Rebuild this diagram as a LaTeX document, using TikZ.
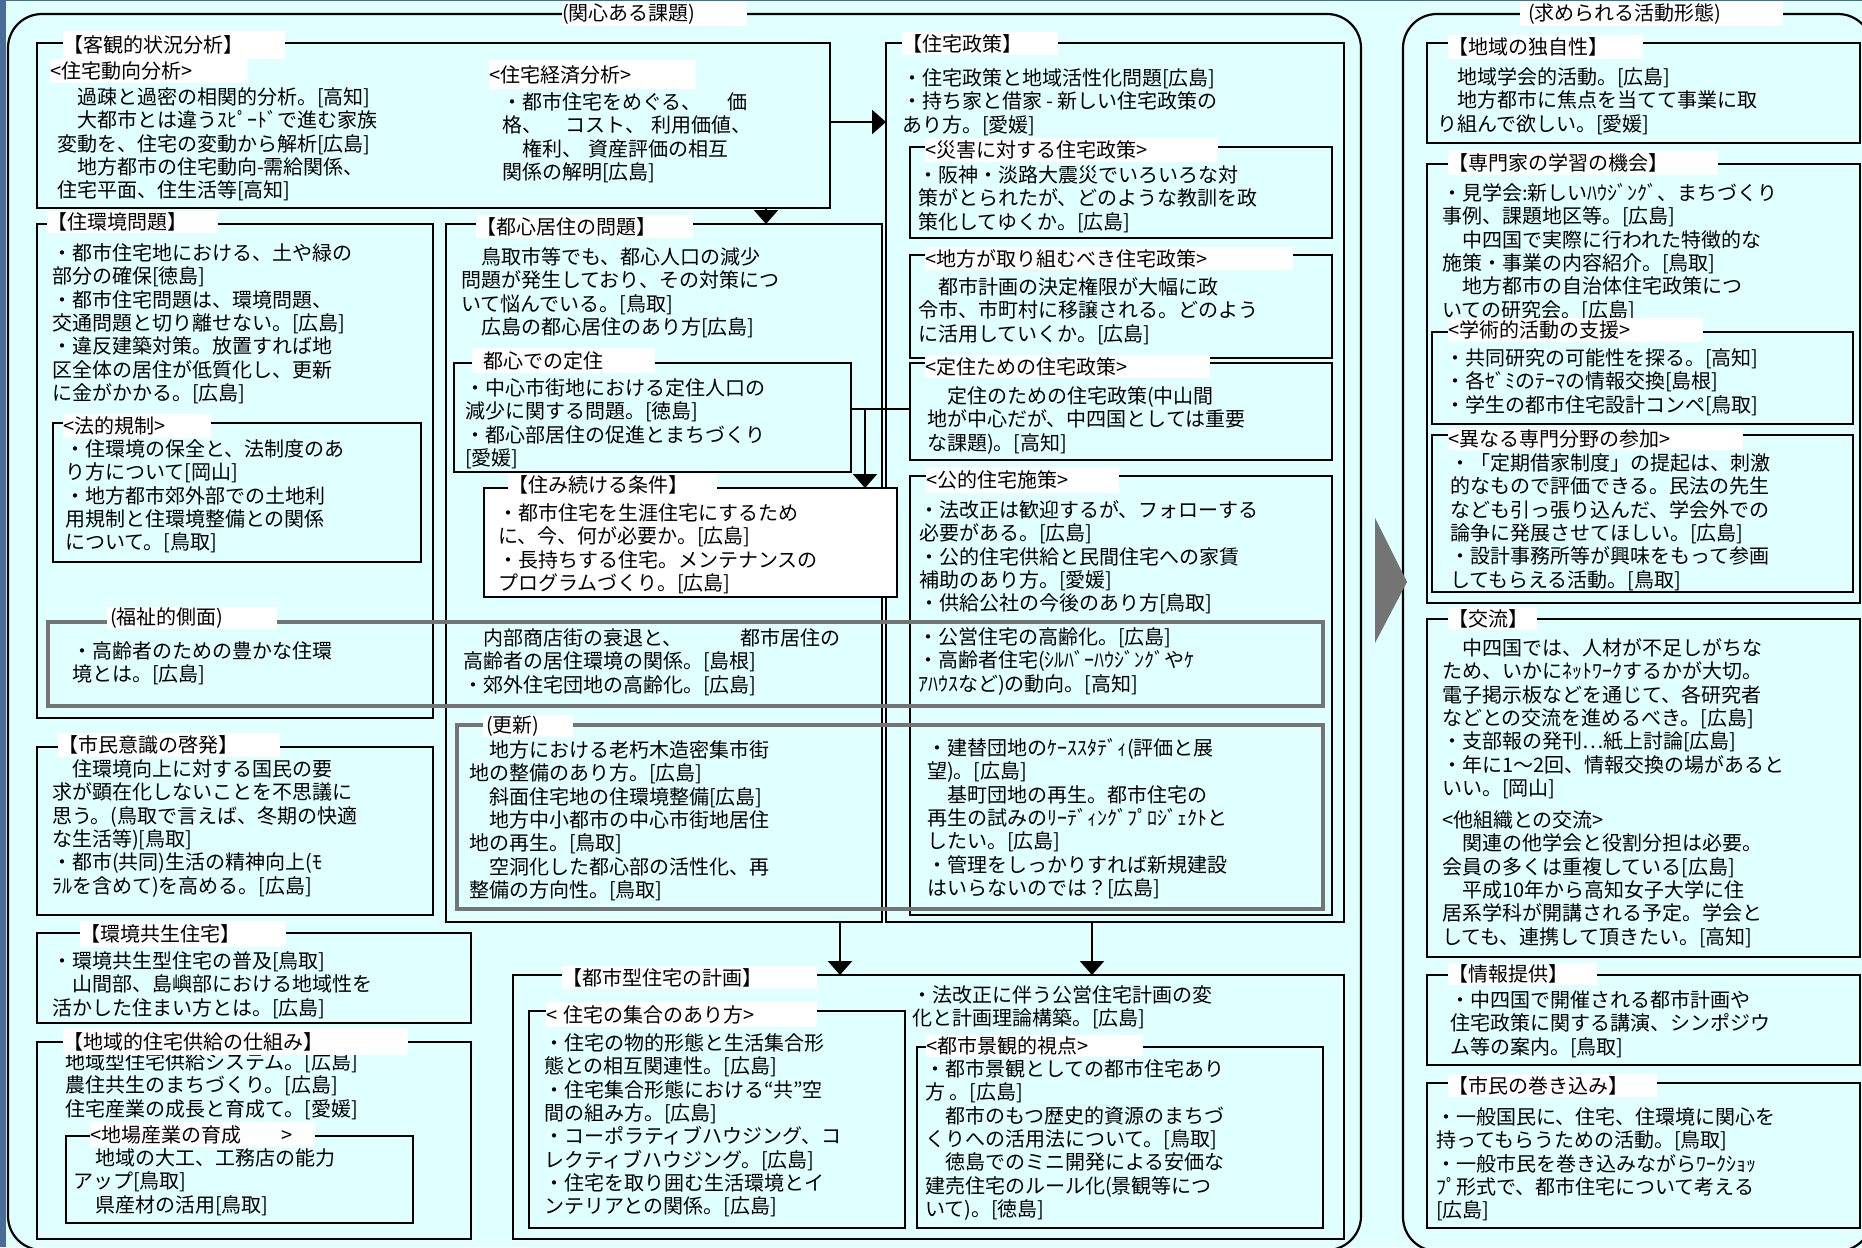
\documentclass[tikz,border=0pt]{standalone}
\usepackage{fontspec}
\setmainfont{Noto Sans CJK JP}
\usetikzlibrary{arrows.meta}
\definecolor{bgblue}{HTML}{4A6C98}
\definecolor{lcyan}{HTML}{E0FFFF}
\definecolor{gline}{HTML}{747474}
\newcommand\jf{\fontsize{20pt}{23.3pt}\selectfont}
\newcommand\ind{\hspace*{1em}}
\newcommand\bx[6][]{\node[box,#1,minimum width={(#5-#3)*1pt},minimum height={(#6-#4)*1pt}] (#2) at (#3,#4) {};}
\newcommand\ttl[7][]{\pgfmathsetmacro\ttlw{#5-#3}\pgfmathsetmacro\ttlh{#6-#4}\node[ttlbox,#1,text width=\ttlw pt,minimum height=\ttlh pt] (#2) at (#3,#4) {#7};}
\newcommand\tb[4]{\node[tx] (#1) at (#2,#3-10.9) {\rule{0pt}{18.5pt}#4};}
\tikzset{
  box/.style={draw=black, line width=2.6pt, anchor=north west, inner sep=0pt, outer sep=0pt, rectangle},
  gbox/.style={box, draw=gline, line width=4.5pt},
  obox/.style={box, line width=2.2pt, rounded corners=34pt},
  wbox/.style={box, fill=white},
  ttlbox/.style={fill=white, anchor=north west, inner sep=0pt, outer sep=0pt, align=left, font=\jf},
  tx/.style={anchor=north west, inner sep=0pt, outer sep=0pt, align=left, font=\jf},
  arr/.style={line width=2.6pt, -{Triangle[width=24pt,length=14pt]}},
  ln/.style={line width=2.6pt},
}
\begin{document}
\begin{tikzpicture}[x=1pt,y=-1pt]
\useasboundingbox (0,0) rectangle (1862,1247);
\clip (0,0) rectangle (1862,1247);
\fill[bgblue] (0,0) rectangle (1862,1247);
\fill[lcyan] (6,1) rectangle (1862,1247);
% outer boxes
\bx[obox]{M}{8}{14}{1361}{1250}
\bx[obox]{N}{1403}{14}{1872}{1251}
\fill[gline] (1375,518) -- (1407,582) -- (1375,643) -- cycle;
% left column
\bx{A}{37}{43}{830}{208}
\bx{B}{37}{224}{433}{718}
\bx{B1}{53}{423}{421}{562}
\bx{F}{37}{747}{433}{915}
\bx{G}{37}{933}{471}{1023}
\bx{H}{37}{1042}{471}{1239}
\bx{H1}{66}{1136}{413}{1223}
% middle
\bx{C}{446}{224}{882}{922}
\bx{C1}{454}{363}{851}{472}
\bx{D}{886}{43}{1344}{922}
\bx{D1}{910}{147}{1332}{238}
\bx{D2}{910}{255}{1332}{358}
\bx{D3}{910}{363}{1332}{460}
\bx{D4}{910}{476}{1332}{915}
\bx{E}{513}{975}{1344}{1239}
\bx{E1}{529}{1011}{905}{1228}
\bx{E2}{917}{1047}{1323}{1228}
% grey boxes
\bx[gbox]{W1}{48}{622}{1323}{706}
\bx[gbox]{W2}{457}{725}{1323}{909}
% right column
\bx{R1}{1427}{43}{1860}{143}
\bx{R2}{1427}{164}{1860}{603}
\bx{R2a}{1432}{332}{1853}{424}
\bx{R2b}{1432}{435}{1853}{592}
\bx{R3}{1427}{619}{1860}{957}
\bx{R4}{1427}{975}{1860}{1065}
\bx{R5}{1427}{1083}{1860}{1228}
% white box
\bx[wbox]{C2}{484}{488}{897}{597}
% connectors
\coordinate (ya) at (0,122);
\coordinate (xa) at (766,0);
\coordinate (yb) at (0,409);
\coordinate (xb) at (865,0);
\coordinate (xc) at (840,0);
\coordinate (xd) at (1092,0);
\draw[arr] (A.east |- ya) -- (D.west |- ya);
\draw[arr] (A.south -| xa) -- (C.north -| xa);
\draw[ln] (C1.east |- yb) -- (D3.west |- yb);
\draw[arr] (xb |- yb) -- (C2.north -| xb);
\draw[arr] (C.south -| xc) -- (E.north -| xc);
\draw[arr] (D.south -| xd) -- (E.north -| xd);
% texts
\tb{At}{57}{97}{\ind 過疎と過密の相関的分析。[高知]\\\ind 大都市とは違うｽﾋﾟｰﾄﾞで進む家族\\変動を、住宅の変動から解析[広島]\\\ind 地方都市の住宅動向-需給関係、\\住宅平面、住生活等[高知]}
\tb{A2t}{502}{102}{・都市住宅をめぐる、\hspace{1.3em}価\\格、\hspace{1.2em}コスト、\hspace{0.3em}利用価値、\\\ind 権利、\hspace{0.3em}資産評価の相互\\関係の解明[広島]}
\tb{Bt}{52}{253}{・都市住宅地における、土や緑の\\部分の確保[徳島]\\・都市住宅問題は、環境問題、\\交通問題と切り離せない。[広島]\\・違反建築対策。放置すれば地\\区全体の居住が低質化し、更新\\に金がかかる。[広島]}
\tb{B1t}{65}{449}{・住環境の保全と、法制度のあ\\り方について[岡山]\\・地方都市郊外部での土地利\\用規制と住環境整備との関係\\について。[鳥取]}
\tb{W1a}{72}{651}{・高齢者のための豊かな住環\\境とは。[広島]}
\tb{W1b}{463}{638}{\ind 内部商店街の衰退と、\hspace{2.9em}都市居住の\\高齢者の居住環境の関係。[島根]\\・郊外住宅団地の高齢化。[広島]}
\tb{W1c}{918}{637}{・公営住宅の高齢化。[広島]\\・高齢者住宅(ｼﾙﾊﾞｰﾊｳｼﾞﾝｸﾞやｹ\\ｱﾊｳｽなど)の動向。[高知]}
\tb{Ct}{461}{257}{\ind 鳥取市等でも、都心人口の減少\\問題が発生しており、その対策につ\\いて悩んでいる。[鳥取]\\\ind 広島の都心居住のあり方[広島]}
\tb{C1t}{465}{388}{・中心市街地における定住人口の\\減少に関する問題。[徳島]\\・都心部居住の促進とまちづくり\\{}[愛媛]}
\tb{C2t}{498}{513}{・都市住宅を生涯住宅にするため\\に、今、何が必要か。[広島]\\・長持ちする住宅。メンテナンスの\\プログラムづくり。[広島]}
\tb{W2a}{469}{750}{\ind 地方における老朽木造密集市街\\地の整備のあり方。[広島]\\\ind 斜面住宅地の住環境整備[広島]\\\ind 地方中小都市の中心市街地居住\\地の再生。[鳥取]\\\ind 空洞化した都心部の活性化、再\\整備の方向性。[鳥取]}
\tb{W2b}{927}{748}{・建替団地のｹｰｽｽﾀﾃﾞｨ(評価と展\\望)。[広島]\\\ind 基町団地の再生。都市住宅の\\再生の試みのﾘｰﾃﾞｨﾝｸﾞﾌﾟﾛｼﾞｪｸﾄと\\したい。[広島]\\・管理をしっかりすれば新規建設\\はいらないのでは？[広島]}
\tb{Dt}{902}{78}{・住宅政策と地域活性化問題[広島]\\・持ち家と借家 - 新しい住宅政策の\\あり方。[愛媛]}
\tb{D1t}{918}{175}{・阪神・淡路大震災でいろいろな対\\策がとられたが、どのような教訓を政\\策化してゆくか。[広島]}
\tb{D2t}{918}{287}{\ind 都市計画の決定権限が大幅に政\\令市、市町村に移譲される。どのよう\\に活用していくか。[広島]}
\tb{D3t}{927}{396}{\ind 定住のための住宅政策(中山間\\地が中心だが、中四国としては重要\\な課題)。[高知]}
\tb{D4t}{919}{510}{・法改正は歓迎するが、フォローする\\必要がある。[広島]\\・公的住宅供給と民間住宅への家賃\\補助のあり方。[愛媛]\\・供給公社の今後のあり方[鳥取]}
\tb{Et}{912}{995}{・法改正に伴う公営住宅計画の変\\化と計画理論構築。[広島]}
\tb{E1t}{544}{1043}{・住宅の物的形態と生活集合形\\態との相互関連性。[広島]\\・住宅集合形態における“共”空\\間の組み方。[広島]\\・コーポラティブハウジング、コ\\レクティブハウジング。[広島]\\・住宅を取り囲む生活環境とイ\\ンテリアとの関係。[広島]}
\tb{E2t}{925}{1069}{・都市景観としての都市住宅あり\\方 。[広島]\\\ind 都市のもつ歴史的資源のまちづ\\くりへの活用法について。[鳥取]\\\ind 徳島でのミニ開発による安価な\\建売住宅のルール化(景観等につ\\いて)。[徳島]}
\tb{Ft}{52}{769}{\ind 住環境向上に対する国民の要\\求が顕在化しないことを不思議に\\思う。(鳥取で言えば、冬期の快適\\な生活等)[鳥取]\\・都市(共同)生活の精神向上(ﾓ\\ﾗﾙを含めて)を高める。[広島]}
\tb{Gt}{52}{961}{・環境共生型住宅の普及[鳥取]\\\ind 山間部、島嶼部における地域性を\\活かした住まい方とは。[広島]}
\tb{Ht}{65}{1062}{地域型住宅供給システム。[広島]\\農住共生のまちづくり。[広島]\\住宅産業の成長と育成て。[愛媛]}
\tb{H1t}{73}{1158}{\hspace*{22pt}地域の大工、工務店の能力\\アップ[鳥取]\\\hspace*{22pt}県産材の活用[鳥取]}
\tb{R1t}{1437}{77}{\ind 地域学会的活動。[広島]\\\ind 地方都市に焦点を当てて事業に取\\り組んで欲しい。[愛媛]}
\tb{R2t}{1442}{193}{・見学会:新しいﾊｳｼﾞﾝｸﾞ、まちづくり\\事例、課題地区等。[広島]\\\ind 中四国で実際に行われた特徴的な\\施策・事業の内容紹介。[鳥取]\\\ind 地方都市の自治体住宅政策につ\\いての研究会。[広島]}
\tb{R2at}{1445}{358}{・共同研究の可能性を探る。[高知]\\・各ｾﾞﾐのﾃｰﾏの情報交換[島根]\\・学生の都市住宅設計コンペ[鳥取]}
\tb{R2bt}{1450}{463}{・「定期借家制度」の提起は、刺激\\的なもので評価できる。民法の先生\\なども引っ張り込んだ、学会外での\\論争に発展させてほしい。[広島]\\・設計事務所等が興味をもって参画\\してもらえる活動。[鳥取]}
\tb{R3t}{1442}{648}{\ind 中四国では、人材が不足しがちな\\ため、いかにﾈｯﾄﾜｰｸするかが大切。\\電子掲示板などを通じて、各研究者\\などとの交流を進めるべき。[広島]\\・支部報の発刊…紙上討論[広島]\\・年に1～2回、情報交換の場があると\\いい。[岡山]}
\tb{R3bt}{1442}{820}{<他組織との交流>\\\ind 関連の他学会と役割分担は必要。\\会員の多くは重複している[広島]\\\ind 平成10年から高知女子大学に住\\居系学科が開講される予定。学会と\\しても、連携して頂きたい。[高知]}
\tb{R4t}{1450}{1000}{・中四国で開催される都市計画や\\住宅政策に関する講演、シンポジウ\\ム等の案内。[鳥取]}
\tb{R5t}{1436}{1117}{・一般国民に、住宅、住環境に関心を\\持ってもらうための活動。[鳥取]\\・一般市民を巻き込みながらﾜｰｸｼｮｯ\\ﾌﾟ形式で、都市住宅について考える\\{}[広島]}
% titles
\ttl{Mtl}{562}{2}{747}{26}{(関心ある課題)}
\ttl{Ntl}{1520}{2}{1783}{26}{\hspace*{8pt}(求められる活動形態)}
\ttl{Atl}{63}{31}{285}{59}{【客観的状況分析】}
\ttl{A1tl}{50}{59}{248}{83}{<住宅動向分析>}
\ttl{A2tl}{489}{60}{696}{89}{<住宅経済分析>}
\ttl{Btl}{47}{211}{218}{233}{【住環境問題】}
\ttl{B1tl}{63}{414}{211}{438}{<法的規制>}
\ttl{W1tl}{107}{607}{277}{629}{\hspace*{3pt}(福祉的側面)}
\ttl{Ctl}{476}{215}{693}{238}{【都心居住の問題】}
\ttl{C1tl}{472}{348}{655}{373}{\hspace*{11pt}都心での定住}
\ttl{C2tl}{508}{473}{717}{497}{【住み続ける条件】}
\ttl{W2tl}{483}{715}{573}{737}{\hspace*{3pt}(更新)}
\ttl{Dtl}{902}{32}{1058}{55}{【住宅政策】}
\ttl{D1tl}{925}{138}{1218}{162}{<災害に対する住宅政策>}
\ttl{D2tl}{925}{247}{1293}{270}{<地方が取り組むべき住宅政策>}
\ttl{D3tl}{925}{355}{1210}{378}{<定住ための住宅政策>}
\ttl{D4tl}{926}{467}{1119}{493}{<公的住宅施策>}
\ttl{Etl}{562}{966}{817}{989}{【都市型住宅の計画】}
\ttl{E1tl}{546}{1002}{817}{1027}{<\hspace{0.3em}住宅の集合のあり方>}
\ttl{E2tl}{926}{1035}{1143}{1057}{<都市景観的視点>}
\ttl{Ftl}{58}{733}{280}{757}{【市民意識の啓発】}
\ttl{Gtl}{80}{921}{286}{947}{【環境共生住宅】}
\ttl{Htl}{63}{1028}{408}{1055}{【地域的住宅供給の仕組み】}
\ttl{H1tl}{90}{1122}{315}{1147}{<地場産業の育成\hspace{2em}>}
\ttl{R1tl}{1448}{35}{1643}{59}{【地域の独自性】}
\ttl{R2tl}{1448}{150}{1718}{175}{【専門家の学習の機会】}
\ttl{R2atl}{1448}{318}{1703}{342}{<学術的活動の支援>}
\ttl{R2btl}{1448}{428}{1743}{450}{<異なる専門分野の参加>}
\ttl{R3tl}{1448}{607}{1537}{630}{【交流】}
\ttl{R4tl}{1448}{963}{1597}{985}{【情報提供】}
\ttl{R5tl}{1448}{1074}{1657}{1097}{【市民の巻き込み】}
\end{tikzpicture}
\end{document}
